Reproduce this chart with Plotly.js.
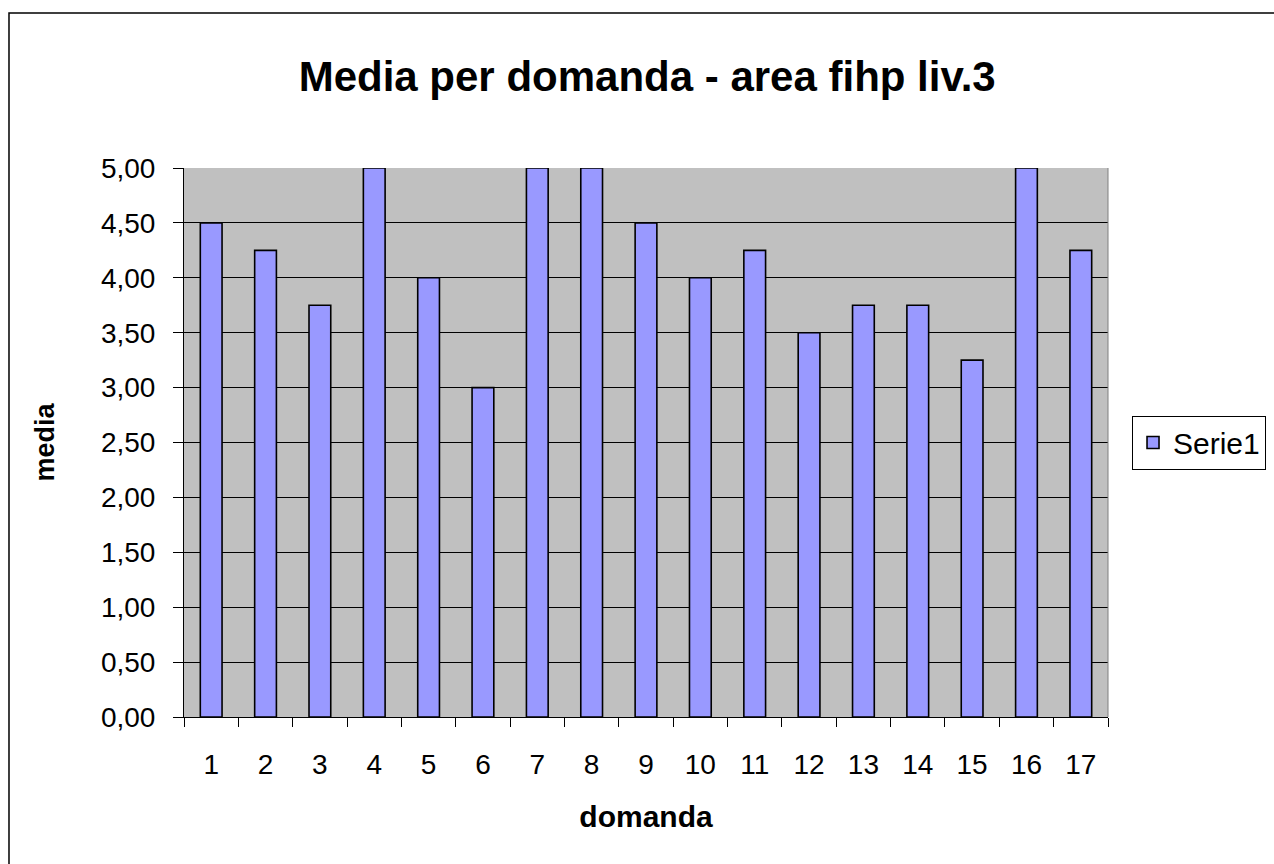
<!DOCTYPE html>
<html>
<head>
<meta charset="utf-8">
<script src="https://cdn.plot.ly/plotly-3.0.1.min.js"></script>
<style>html,body{margin:0;padding:0;background:#fff;}#chart{width:1274px;height:864px;}</style>
</head>
<body>
<div id="chart"></div>
<script>
const categories = ["1","2","3","4","5","6","7","8","9","10","11","12","13","14","15","16","17"];
const serie1 = [4.50, 4.25, 3.75, 5.00, 4.00, 3.00, 5.00, 5.00, 4.50, 4.00, 4.25, 3.50, 3.75, 3.75, 3.25, 5.00, 4.25];
const yTicks = [0, 0.5, 1, 1.5, 2, 2.5, 3, 3.5, 4, 4.5, 5];
const seriesName = "Serie1";
const chartTitle = "Media per domanda - area fihp liv.3";
const xTitle = "domanda";
const yTitle = "media";

const font = "Liberation Sans, Arial, sans-serif";

const trace = {
  type: "bar",
  x: categories,
  y: serie1,
  name: seriesName,
  marker: {color: "#9999ff", line: {color: "#000000", width: 1.6}},
  hoverinfo: "x+y"
};

const layout = {
  width: 1274, height: 864,
  margin: {l: 184, r: 166, t: 168, b: 147, autoexpand: false},
  paper_bgcolor: "#ffffff",
  plot_bgcolor: "#c0c0c0",
  separators: ",.",
  showlegend: true,
  title: {text: "<b>" + chartTitle + "</b>", font: {family: font, size: 42, color: "#000"}, x: 0.508, xanchor: "center", y: 0.912, yanchor: "middle"},
  font: {family: font, size: 28, color: "#000"},
  bargap: 0.6,
  xaxis: {
    type: "category",
    tickson: "boundaries",
    ticks: "outside", ticklen: 9, tickwidth: 1, tickcolor: "#000",
    ticklabelstandoff: 22,
    showline: true, linecolor: "#000", linewidth: 1,
    showgrid: false,
    tickfont: {family: font, size: 28, color: "#000"},
    title: {text: "<b>" + xTitle + "</b>", font: {family: font, size: 30, color: "#000"}, standoff: 27},
    fixedrange: true
  },
  yaxis: {
    range: [0, 5],
    tickvals: yTicks,
    tickformat: ".2f",
    ticks: "outside", ticklen: 10, tickwidth: 1, tickcolor: "#000",
    ticklabelstandoff: 12,
    showline: true, linecolor: "#000", linewidth: 1,
    showgrid: true, gridcolor: "#000", gridwidth: 1,
    zeroline: false,
    tickfont: {family: font, size: 28, color: "#000"},
    title: {text: "<b>" + yTitle + "</b>", font: {family: font, size: 27, color: "#000"}, standoff: 38},
    fixedrange: true
  },
  legend: {
    x: 1.026, xanchor: "left", y: 0.5, yanchor: "middle",
    bordercolor: "#000", borderwidth: 1, bgcolor: "#fff",
    font: {family: font, size: 30, color: "#000"},
    itemwidth: 30
  },
  shapes: [
    {type: "rect", xref: "paper", yref: "paper", x0: -0.1894, x1: 1.19, y0: -0.28, y1: 1.2823, line: {color: "#000", width: 1.5}, fillcolor: "rgba(0,0,0,0)", layer: "below"},
    {type: "line", xref: "paper", yref: "paper", x0: 1, x1: 1, y0: 0, y1: 1, line: {color: "#808080", width: 1}}
  ]
};

Plotly.newPlot("chart", [trace], layout, {displayModeBar: false, staticPlot: true});
</script>
</body>
</html>
